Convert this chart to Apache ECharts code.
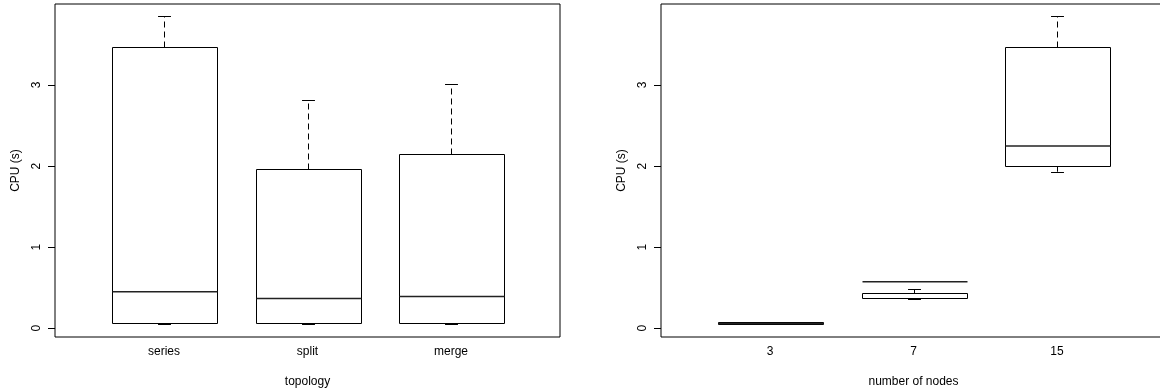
<!DOCTYPE html>
<html>
<head>
<meta charset="utf-8">
<style>
  html, body { margin: 0; padding: 0; background: #fff; }
  #chart { width: 1160px; height: 391px; }
</style>
<script src="https://cdn.jsdelivr.net/npm/echarts@6/dist/echarts.min.js"></script>
</head>
<body>
<div id="chart"></div>
<script>
// ---- data ----
const topologyCats = ["series", "split", "merge"];
const topoLow  = [0.045, 0.045, 0.05];
const topoQ1   = [0.065, 0.065, 0.065];
const topoMed  = [0.45, 0.366, 0.39];
const topoQ3   = [3.467, 1.963, 2.152];
const topoHigh = [3.85, 2.81, 3.012];

const nodeCats = ["3", "7", "15"];
const nodeLow  = [0.045, 0.358, 1.93];
const nodeQ1   = [0.045, 0.367, 2.0];
const nodeMed  = [0.057, 0.573, 2.247];
const nodeQ3   = [0.07, 0.432, 3.465];
const nodeHigh = [0.07, 0.478, 3.85];

const yTicks = [0, 1, 2, 3];

// ---- build ----
function rows(lo, q1, med, q3, hi) {
  return lo.map((_, i) => [i + 1, lo[i], q1[i], med[i], q3[i], hi[i]]);
}

const BOX_W = 0.725;  // in category units
const CAP_W = 0.09;
const FONT = "'Liberation Sans', Arial, Helvetica, sans-serif";
const FS = 12;

function renderItem(params, api) {
  const x = api.value(0);
  const lo = api.coord([x, api.value(1)]);
  const q1 = api.coord([x, api.value(2)]);
  const med = api.coord([x, api.value(3)]);
  const q3 = api.coord([x, api.value(4)]);
  const hi = api.coord([x, api.value(5)]);
  const hb = api.size([BOX_W, 0])[0] / 2;
  const hc = api.size([CAP_W, 0])[0] / 2;
  const cx = Math.round(q1[0]) + 0.5;
  const L = Math.round(cx - hb) + 0.5, R = Math.round(cx + hb) + 0.5;
  const line = (x1, y1, x2, y2, style) => ({
    type: 'line',
    shape: { x1: x1, y1: y1, x2: x2, y2: y2 },
    style: Object.assign({ stroke: '#000', lineWidth: 1 }, style || {})
  });
  const yq3 = Math.round(q3[1]) + 0.5, yq1 = Math.round(q1[1]) + 0.5;
  const children = [];
  if (hi[1] < yq3 - 0.5) children.push(line(cx, yq3, cx, hi[1], { lineDash: [6, 4] }));
  if (lo[1] > yq1 + 0.5) children.push(line(cx, yq1, cx, lo[1], { lineDash: [6, 4] }));
  if (hi[1] < yq3 - 0.5) children.push(line(cx - hc, Math.round(hi[1]) + 0.5, cx + hc, Math.round(hi[1]) + 0.5));
  if (lo[1] > yq1 + 0.5) children.push(line(cx - hc, Math.round(lo[1]) + 0.5, cx + hc, Math.round(lo[1]) + 0.5));
  children.push({
    type: 'rect',
    shape: { x: L, y: yq3, width: R - L, height: yq1 - yq3 },
    style: { fill: '#fff', stroke: '#000', lineWidth: 1 }
  });
  children.push(line(L, med[1], R, med[1], { stroke: '#222', lineWidth: 1.5 }));
  return { type: 'group', children: children };
}

function xAxisFor(gridIndex, cats, name) {
  return {
    type: 'value', gridIndex: gridIndex, min: 0.24, max: 3.76,
    name: name, nameLocation: 'middle', nameGap: 39,
    nameTextStyle: { fontFamily: FONT, fontSize: FS, color: '#000' },
    axisLine: { show: false }, axisTick: { show: false }, splitLine: { show: false },
    axisLabel: {
      customValues: [1, 2, 3],
      formatter: v => cats[Math.round(v) - 1],
      fontFamily: FONT, fontSize: FS, color: '#000', margin: 9
    }
  };
}
function yAxisFor(gridIndex) {
  return {
    type: 'value', gridIndex: gridIndex, min: -0.11, max: 4.0,
    name: 'CPU (s)', nameLocation: 'middle', nameGap: 33, nameRotate: 90,
    nameTextStyle: { fontFamily: FONT, fontSize: FS, color: '#000' },
    axisLine: { show: false },
    splitLine: { show: false },
    axisTick: { show: true, customValues: yTicks, length: 7, lineStyle: { color: '#000' } },
    axisLabel: {
      customValues: yTicks, rotate: 90, margin: 12,
      fontFamily: FONT, fontSize: FS, color: '#000'
    }
  };
}

const gridBase = { top: 4, bottom: 54, show: true, borderColor: '#000', borderWidth: 1,
  backgroundColor: 'transparent', containLabel: false, outerBoundsMode: 'none' };

const option = {
  backgroundColor: '#fff',
  animation: false,
  grid: [
    Object.assign({ left: 55, right: 600 }, gridBase),
    Object.assign({ left: 661, right: -6 }, gridBase)
  ],
  xAxis: [xAxisFor(0, topologyCats, 'topology'), xAxisFor(1, nodeCats, 'number of nodes')],
  yAxis: [yAxisFor(0), yAxisFor(1)],
  series: [
    { type: 'custom', xAxisIndex: 0, yAxisIndex: 0, renderItem: renderItem,
      data: rows(topoLow, topoQ1, topoMed, topoQ3, topoHigh), clip: false },
    { type: 'custom', xAxisIndex: 1, yAxisIndex: 1, renderItem: renderItem,
      data: rows(nodeLow, nodeQ1, nodeMed, nodeQ3, nodeHigh), clip: false }
  ]
};

const chart = echarts.init(document.getElementById('chart'), null, { renderer: 'canvas' });
chart.setOption(option);
</script>
</body>
</html>
